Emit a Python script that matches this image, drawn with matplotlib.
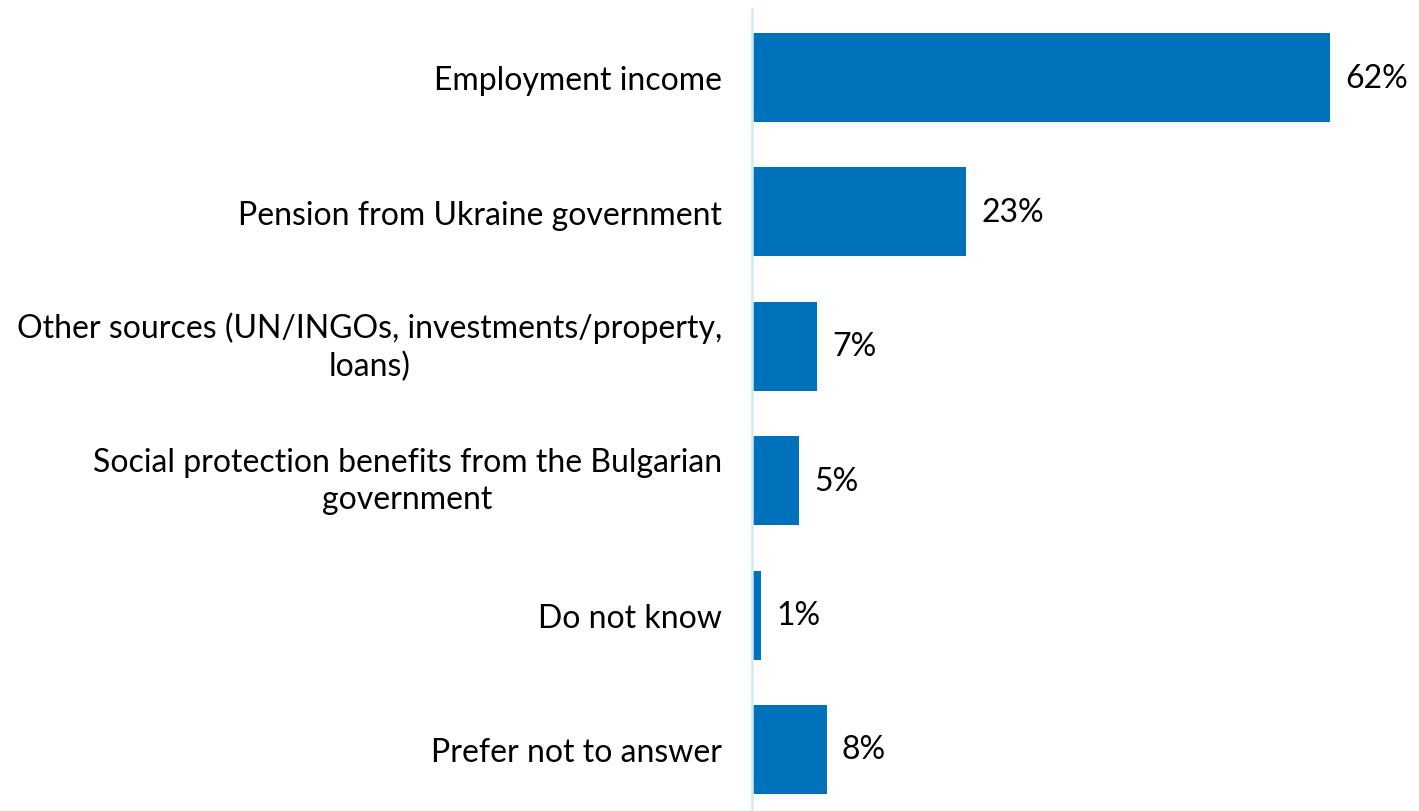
import matplotlib
matplotlib.use("Agg")
import matplotlib.pyplot as plt

categories = [
    "Employment income",
    "Pension from Ukraine government",
    "Other sources (UN/INGOs, investments/property,\nloans)",
    "Social protection benefits from the Bulgarian\ngovernment",
    "Do not know",
    "Prefer not to answer",
]
values = [62, 23, 7, 5, 1, 8]
value_labels = ["62%", "23%", "7%", "5%", "1%", "8%"]

plt.rcParams['font.family'] = ['Lato', 'DejaVu Sans']

W, H = 1419, 812
fig = plt.figure(figsize=(W / 100, H / 100), dpi=100)
ax_left = 752 / W
ax_top = 1 - 10 / H
ax = fig.add_axes([ax_left, 0, 1 - ax_left, ax_top])

ypos = list(range(len(categories)))
ax.barh(ypos, values, height=0.663, color="#0072BC", align="center")

scale = (1331 - 753) / 62.0  # px per unit
xmax = (W - 752) / scale
ax.set_xlim(0, xmax)
unit = 134.4
ytop = -(78.5 - 10) / unit
ybot = (812 - 78.5) / unit
ax.set_ylim(ybot, ytop)

for y, v, lab in zip(ypos, values, value_labels):
    ax.annotate(lab, xy=(v, y), xytext=(11, 0), textcoords="offset points",
                ha="left", va="center", fontsize=23, color="#000000")

ax.set_yticks(ypos)
ax.set_yticklabels(categories, fontsize=23, color="#000000", linespacing=1.28)
ax.tick_params(axis="y", length=0, pad=21.5)
for lbl in ax.get_yticklabels():
    lbl.set_multialignment("center")
    if "\n" in lbl.get_text():
        lbl.set_va("center")
ax.set_xticks([])
for s in ["top", "right", "bottom"]:
    ax.spines[s].set_visible(False)
ax.spines["left"].set_color("#d3e9f8")
ax.spines["left"].set_linewidth(1.8)

fig.savefig("out.png", dpi=100)
